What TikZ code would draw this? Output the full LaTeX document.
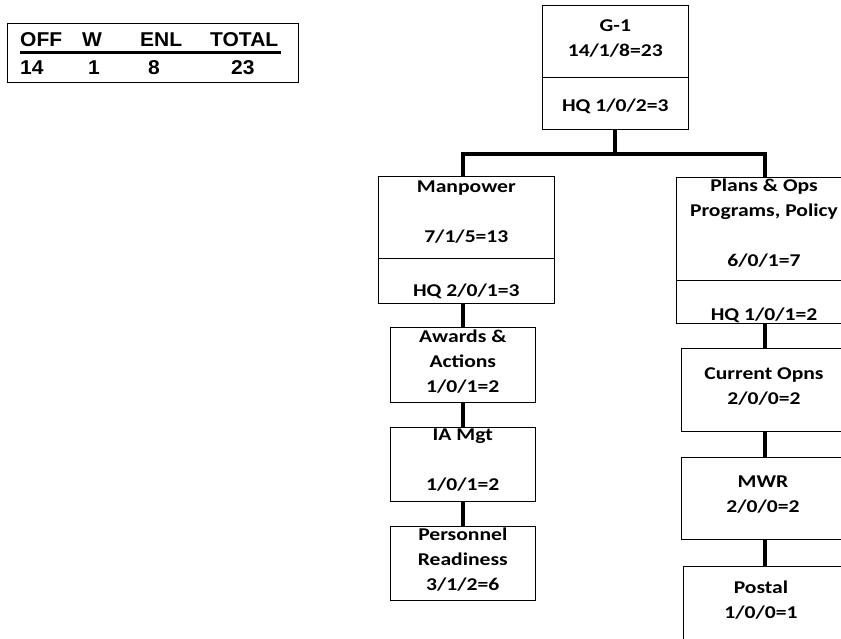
\documentclass[tikz,border=0pt]{standalone}
\usepackage{fontspec}
\newfontfamily\orgfont{Carlito}[FakeStretch=1.2]
\newfontfamily\tabfont{Liberation Sans}[FakeStretch=1.05]
\usepackage{tikz}

\begin{document}
\begin{tikzpicture}[x=1pt,y=-1pt,
  unit/.style={draw, line width=0.9pt, anchor=north, inner sep=0pt},
  utext/.style={font=\orgfont\bfseries\fontsize{18}{25}\selectfont, align=center,
    anchor=north, inner sep=0pt, execute at begin node=\strut},
  ttext/.style={font=\tabfont\bfseries\fontsize{20}{24}\selectfont, anchor=base west, inner sep=0pt},
  link/.style={line width=4pt}]
\useasboundingbox (0,0) rectangle (841,639);
\clip (0,0) rectangle (841,639);

% strength table
\node[draw, line width=0.9pt, anchor=north west, minimum width=291pt, minimum height=59pt, inner sep=0pt] (tab) at (6.7,22.7) {};
\node[ttext] (off) at (20,46.7) {OFF};
\node[ttext] (w) at (82,46.7) {W};
\node[ttext] (enl) at (140,46.7) {ENL};
\node[ttext] (total) at (210,46.7) {TOTAL};
\draw[line width=2.8pt] ([yshift=-6pt]off.base west) -- ([yshift=-6pt,xshift=3pt]total.base east);
\node[ttext] (n14) at (20,75) {14};
\node[ttext] (n1) at (88,75) {1};
\node[ttext] (n8) at (148,75) {8};
\node[ttext] (n23) at (231,75) {23};

% G-1
\node[unit, minimum width=146pt, minimum height=124.3pt] (g1) at (615.3,5) {};
\draw[line width=0.9pt] ([yshift=-72.3pt]g1.north west) -- ([yshift=-72.3pt]g1.north east);
\node[utext] (g1t) at (615.3,19.2) {G-1\\14/1/8=23};
\node[utext] (g1hq) at (615.3,94.2) {HQ 1/0/2=3};

% Manpower
\node[unit, minimum width=176pt, minimum height=127.6pt] (man) at (466.3,175.7) {};
\draw[line width=0.9pt] ([yshift=-82.6pt]man.north west) -- ([yshift=-82.6pt]man.north east);
\node[utext] (mant) at (466.3,180.2) {Manpower\\[25pt]7/1/5=13};
\node[utext] (manhq) at (466.3,279.2) {HQ 2/0/1=3};

% Plans & Ops
\node[unit, minimum width=180pt, minimum height=146pt] (plans) at (766,177.3) {};
\draw[line width=0.9pt] ([yshift=-103.4pt]plans.north west) -- ([yshift=-103.4pt]plans.north east);
\node[utext] (planst) at (764,178.5) {Plans \& Ops\\Programs, Policy\\[25pt]6/0/1=7};
\node[utext] (planshq) at (764,302.5) {HQ 1/0/1=2};

% left column
\node[unit, minimum width=145.7pt, minimum height=74.7pt] (awd) at (462.8,327.3) {};
\node[utext] (awdt) at (462.8,329.2) {Awards \&\\Actions\\1/0/1=2};
\node[unit, minimum width=145.7pt, minimum height=74.3pt] (ia) at (462.8,426.7) {};
\node[utext] (iat) at (462.8,428.5) {IA Mgt\\[25pt]1/0/1=2};
\node[unit, minimum width=145.7pt, minimum height=74.3pt] (pers) at (462.8,525.7) {};
\node[utext] (perst) at (462.8,527.5) {Personnel\\Readiness\\3/1/2=6};

% right column
\node[unit, minimum width=166.6pt, minimum height=82.7pt] (cur) at (765,348.3) {};
\node[utext] (curt) at (764,367.5) {Current Opns\\2/0/0=2};
\node[unit, minimum width=166.6pt, minimum height=82.6pt] (mwr) at (765,456.7) {};
\node[utext] (mwrt) at (763,475.8) {MWR\\2/0/0=2};
\node[unit, minimum width=163.4pt, minimum height=120pt] (postal) at (765,565.7) {};
\node[utext] (postalt) at (761,580.8) {Postal\\1/0/0=1};

% connectors
\draw[link] (g1.south) -- ++(0,23.4) coordinate (bar);
\draw[link] (awd.north |- man.north) |- (bar) -| (cur.north |- plans.north);
\draw[link] (awd.north |- man.south) -- (awd.north);
\draw[link] (awd.south) -- (ia.north);
\draw[link] (ia.south) -- (pers.north);
\draw[link] (cur.north |- plans.south) -- (cur.north);
\draw[link] (cur.south) -- (mwr.north);
\draw[link] (mwr.south) -- (postal.north);

\end{tikzpicture}
\end{document}
